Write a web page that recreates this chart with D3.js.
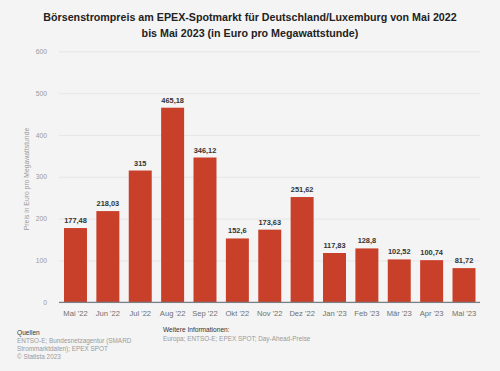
<!DOCTYPE html>
<html><head><meta charset="utf-8">
<script src="https://cdn.jsdelivr.net/npm/d3@7"></script>
<style>body{margin:0;background:#f4f4f4;font-family:"Liberation Sans",Arial,sans-serif}</style>
</head><body>
<svg id="c" width="500" height="371"></svg>
<script>
const categories = ["Mai '22","Jun '22","Jul '22","Aug '22","Sep '22","Okt '22","Nov '22","Dez '22","Jan '23","Feb '23","Mär '23","Apr '23","Mai '23"];
const values = [177.48,218.03,315,465.18,346.12,152.6,173.63,251.62,117.83,128.8,102.52,100.74,81.72];
const yTicks = [0,100,200,300,400,500,600];
const titleLines = ["Börsenstrompreis am EPEX-Spotmarkt für Deutschland/Luxemburg von Mai 2022","bis Mai 2023 (in Euro pro Megawattstunde)"];
const yLabel = "Preis in Euro pro Megawattstunde";
const sources = ["ENTSO-E; Bundesnetzagentur (SMARD","Strommarktdaten); EPEX SPOT","© Statista 2023"];
const infoText = "Europa; ENTSO-E; EPEX SPOT; Day-Ahead-Preise";

const svg = d3.select("#c");
svg.append("rect").attr("width",500).attr("height",371).attr("fill","#f4f4f4");
const fmt = v => String(v).replace(".", ",");

const x = d3.scaleBand().domain(categories).range([59.3, 480.2]).paddingInner(0.29).paddingOuter(0.145);
const y = d3.scaleLinear().domain([0,600]).range([302.3, 51.3]);

// title
svg.append("g").selectAll("text").data(titleLines).join("text")
  .attr("x",250).attr("y",(d,i)=>21+i*16).attr("text-anchor","middle")
  .attr("font-size",10.7).attr("font-weight","bold").attr("fill","#222").text(d=>d);

// grid
const yAxis = d3.axisLeft(y).tickValues(yTicks).tickSize(-(480-59)).tickPadding(12);
const gy = svg.append("g").attr("transform","translate(59,0)").call(yAxis);
gy.select(".domain").remove();
gy.selectAll(".tick line").attr("stroke","#e2e2e2").attr("stroke-width",0.8);
gy.selectAll(".tick text").attr("fill","#9a9a9a").attr("font-size",6.8).attr("font-family","Liberation Sans, Arial, sans-serif");

// y label
svg.append("text").attr("transform","translate(29,179) rotate(-90)").attr("text-anchor","middle")
  .attr("font-size",6.8).attr("fill","#9a9a9a").text(yLabel);

// bars
svg.append("g").selectAll("rect").data(values).join("rect")
  .attr("x",(d,i)=>x(categories[i])).attr("width",x.bandwidth())
  .attr("y",d=>y(d)).attr("height",d=>y(0)-y(d)).attr("fill","#c9402a");

// value labels
svg.append("g").selectAll("text").data(values).join("text")
  .attr("x",(d,i)=>x(categories[i])+x.bandwidth()/2).attr("y",d=>y(d)-5)
  .attr("text-anchor","middle").attr("font-size",7.4).attr("font-weight","bold").attr("fill","#333")
  .text(d=>fmt(d));

// x axis
const xAxis = d3.axisBottom(x).tickSize(0).tickPadding(8);
const gx = svg.append("g").attr("transform",`translate(0,${y(0)})`).call(xAxis);
gx.select(".domain").attr("stroke","#7a7f86").attr("stroke-width",1.3).attr("d","M59,0H480");
gx.selectAll(".tick text").attr("fill","#707070").attr("font-size",7.6).attr("font-family","Liberation Sans, Arial, sans-serif");

// footer
svg.append("text").attr("x",17).attr("y",335).attr("font-size",6.6).attr("fill","#333").text("Quellen");
svg.append("g").selectAll("text").data(sources).join("text")
  .attr("x",17).attr("y",(d,i)=>343+i*8).attr("font-size",6.4).attr("fill","#9a9a9a").text(d=>d);
svg.append("text").attr("x",163).attr("y",332).attr("font-size",6.6).attr("fill","#333").text("Weitere Informationen:");
svg.append("text").attr("x",163).attr("y",340.5).attr("font-size",6.4).attr("fill","#9a9a9a").text(infoText);
</script>
</body></html>
